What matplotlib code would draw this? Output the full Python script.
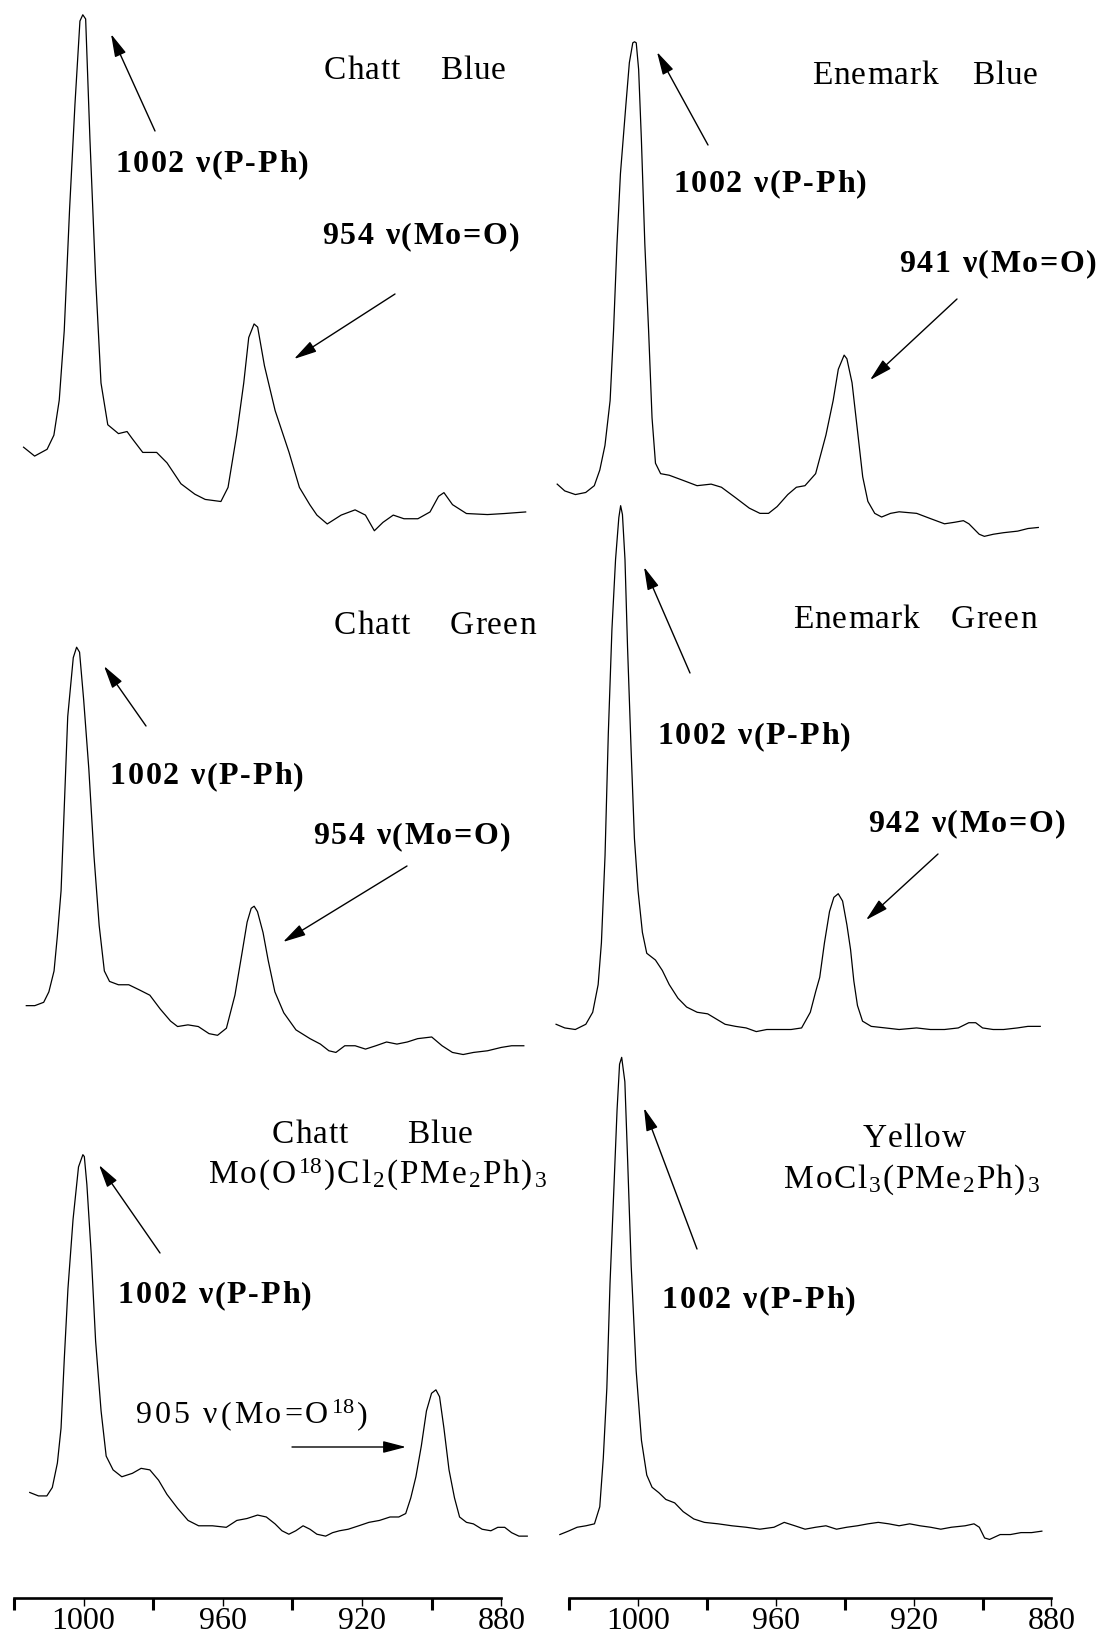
import re
import matplotlib
matplotlib.use("Agg")
import matplotlib.pyplot as plt
from matplotlib.patches import ArrowStyle
from matplotlib.ticker import FixedLocator, NullFormatter
from matplotlib.font_manager import FontProperties, findfont
from matplotlib.ft2font import FT2Font

W, H = 1102, 1638

plt.rcParams['font.family'] = ['Liberation Serif', 'DejaVu Serif']
plt.rcParams['mathtext.fontset'] = 'custom'
plt.rcParams['mathtext.rm'] = 'Liberation Serif'
plt.rcParams['mathtext.it'] = 'Liberation Serif:italic'
plt.rcParams['mathtext.bf'] = 'Liberation Serif:bold'
plt.rcParams['mathtext.default'] = 'regular'

# ---- spectra: wavenumber (cm-1) and relative absorbance (arbitrary units) ----
# Chatt blue
tl_wn = [1018.6, 1015.5, 1012.0, 1010.1, 1008.6, 1007.2, 1005.7, 1004.2, 1002.8, 1002.0,
         1001.2, 1000.0, 998.4, 996.9, 995.0, 992.0, 989.6, 988.1, 985.2, 981.3,
         978.4, 974.5, 970.6, 967.7, 963.3, 961.3, 958.9, 956.9, 955.5, 954.0,
         953.0, 951.1, 948.1, 944.2, 941.3, 938.4, 936.4, 933.5, 929.6, 925.7,
         922.8, 920.3, 917.9, 915.0, 912.0, 908.1, 904.7, 902.3, 900.8, 898.4,
         894.5, 888.6, 883.8, 877.9]
tl_abs = [17.7, 16.0, 17.3, 20.0, 26.7, 40.0, 63.3, 83.3, 99.3, 100.5,
          99.7, 76.7, 50.0, 30.0, 22.0, 20.3, 20.7, 19.3, 16.7, 16.7,
          14.7, 10.7, 8.7, 7.7, 7.3, 10.0, 20.0, 30.0, 38.7, 41.3,
          40.7, 33.3, 24.7, 16.7, 10.0, 6.7, 4.7, 3.0, 4.7, 5.7,
          4.7, 1.7, 3.3, 4.7, 4.0, 4.0, 5.3, 8.3, 9.0, 6.7,
          5.0, 4.8, 5.0, 5.3]

# Enemark blue
tr_wn = [1024.5, 1022.3, 1019.2, 1016.2, 1013.7, 1012.1, 1010.6, 1009.1, 1008.1, 1007.1,
         1006.1, 1004.5, 1003.5, 1002.5, 1002.0, 1001.5, 1000.8, 1000.0, 999.0, 997.9,
         996.9, 995.9, 994.4, 991.9, 987.8, 983.8, 979.7, 976.7, 972.6, 968.6,
         965.5, 963.0, 960.5, 957.4, 954.9, 952.4, 949.3, 946.3, 944.2, 942.7,
         941.0, 940.2, 938.7, 937.2, 935.6, 934.1, 932.1, 930.1, 927.5, 925.0,
         919.9, 915.9, 911.8, 908.8, 906.3, 904.7, 901.7, 900.2, 897.6, 894.6,
         890.5, 887.5, 884.5]
tr_abs = [11.3, 10.0, 9.3, 9.7, 11.0, 14.0, 18.7, 27.3, 40.7, 57.3,
          70.7, 84.0, 92.0, 95.8, 96.0, 95.8, 90.7, 77.3, 57.3, 40.7,
          24.0, 15.3, 13.3, 13.0, 12.0, 11.0, 11.3, 10.7, 8.7, 6.7,
          5.7, 5.7, 7.0, 9.3, 10.7, 11.0, 13.3, 20.7, 27.3, 33.3,
          36.0, 35.3, 30.7, 22.0, 12.7, 8.0, 5.7, 5.0, 5.7, 6.0,
          5.7, 4.7, 3.7, 4.0, 4.3, 3.7, 1.7, 1.3, 1.7, 2.0,
          2.3, 2.8, 3.0]

# Chatt green
ml_wn = [1015.6, 1013.3, 1010.9, 1009.5, 1008.1, 1007.2, 1006.2, 1005.3, 1004.4, 1002.9,
         1002.0, 1001.2, 1000.1, 998.7, 997.3, 995.9, 994.5, 993.1, 990.7, 987.9,
         985.1, 982.2, 979.4, 976.6, 974.7, 971.9, 969.1, 966.2, 963.9, 961.5,
         959.2, 957.3, 955.9, 954.8, 954.0, 953.1, 951.6, 950.2, 948.4, 946.0,
         942.7, 938.9, 936.1, 933.8, 931.9, 929.5, 926.7, 923.9, 921.1, 918.2,
         915.4, 912.6, 909.8, 906.0, 903.2, 900.4, 897.5, 894.7, 890.9, 887.2,
         884.4, 881.1]
ml_abs = [12.5, 12.5, 13.3, 15.8, 20.8, 29.2, 40.0, 60.8, 81.7, 95.8,
          98.3, 97.1, 85.8, 69.2, 48.3, 31.7, 20.8, 18.3, 17.5, 17.5,
          16.3, 15.0, 11.7, 8.8, 7.5, 7.9, 7.5, 5.8, 5.4, 7.1,
          15.0, 25.0, 32.5, 35.8, 36.3, 35.0, 30.0, 23.3, 15.8, 10.8,
          6.7, 4.6, 3.3, 1.7, 1.3, 2.9, 2.9, 2.1, 2.9, 3.8,
          3.3, 3.8, 4.6, 5.0, 2.9, 1.3, 0.8, 1.3, 1.7, 2.5,
          2.9, 2.9]

# Enemark green
mr_wn = [1019.8, 1017.4, 1014.5, 1011.6, 1009.7, 1008.2, 1007.3, 1006.3, 1005.4, 1004.4,
         1003.4, 1002.5, 1002.0, 1001.5, 1000.8, 1000.1, 999.1, 998.2, 997.2, 996.0,
         994.8, 992.4, 990.5, 988.6, 986.2, 983.8, 980.9, 978.0, 975.6, 973.2,
         970.3, 967.4, 964.6, 961.7, 958.8, 955.0, 952.1, 949.7, 948.2, 947.1,
         945.8, 944.4, 943.2, 942.0, 940.8, 939.6, 938.6, 937.7, 936.7, 935.3,
         932.9, 929.0, 925.2, 920.4, 916.6, 912.7, 908.9, 906.0, 904.1, 902.2,
         899.3, 896.4, 892.6, 889.7, 886.3]
mr_abs = [1.7, 1.0, 0.7, 1.7, 4.0, 9.3, 17.3, 34.0, 57.3, 77.3,
          90.7, 98.7, 101.0, 99.3, 90.7, 74.0, 54.0, 37.3, 27.3, 19.3,
          15.3, 14.0, 12.0, 9.3, 6.7, 5.0, 4.0, 3.7, 2.7, 1.7,
          1.3, 1.0, 0.3, 0.7, 0.7, 0.7, 1.0, 4.0, 8.0, 10.7,
          17.3, 23.3, 26.0, 26.7, 25.3, 20.7, 16.0, 10.0, 5.3, 2.3,
          1.3, 1.0, 0.7, 1.0, 0.7, 0.7, 1.0, 2.0, 2.0, 1.0,
          0.7, 0.7, 1.0, 1.3, 1.3]

# Chatt blue, O-18 labelled
bl_wn = [1016.6, 1014.2, 1011.9, 1010.4, 1009.0, 1008.0, 1007.1, 1006.1, 1004.7, 1003.2,
         1002.0, 1001.6, 1000.9, 999.7, 998.5, 997.0, 995.6, 993.7, 991.3, 988.4,
         986.0, 983.6, 981.2, 978.9, 976.0, 973.1, 970.2, 966.4, 962.6, 959.7,
         956.9, 954.0, 951.6, 949.2, 947.3, 945.4, 943.5, 941.5, 939.6, 937.7,
         935.3, 933.4, 931.5, 929.1, 926.2, 923.4, 920.5, 917.6, 915.2, 913.3,
         911.9, 910.5, 909.0, 907.6, 906.2, 905.0, 904.0, 902.8, 901.4, 899.9,
         898.5, 896.6, 894.7, 892.3, 889.9, 888.0, 886.1, 884.2, 882.2, 879.9]
bl_abs = [12.3, 11.4, 11.4, 13.6, 20.0, 29.1, 47.3, 65.5, 83.6, 97.3,
          100.5, 100.0, 92.7, 74.5, 51.8, 33.6, 21.8, 18.2, 16.4, 17.3,
          18.6, 18.2, 15.5, 11.8, 8.2, 5.0, 3.6, 3.6, 3.2, 5.0,
          5.5, 6.4, 5.9, 4.1, 2.3, 1.4, 2.3, 3.6, 2.7, 1.4,
          0.9, 1.8, 2.3, 2.7, 3.6, 4.5, 5.0, 5.9, 5.9, 6.8,
          10.9, 16.4, 24.5, 33.6, 38.2, 39.1, 37.3, 29.1, 18.2, 10.9,
          5.9, 4.5, 4.1, 2.7, 2.3, 3.2, 3.2, 1.8, 0.9, 0.9]

# Yellow MoCl3(PMe2Ph)3
br_wn = [1019.5, 1017.1, 1014.6, 1012.1, 1009.7, 1008.2, 1007.2, 1006.2, 1005.3, 1004.3,
         1003.3, 1002.6, 1002.0, 1001.1, 1000.3, 999.3, 997.9, 996.4, 994.9, 993.4,
         991.5, 989.5, 987.0, 984.6, 981.6, 978.6, 974.7, 970.8, 966.8, 962.9,
         958.9, 956.0, 953.0, 950.1, 947.1, 944.2, 941.2, 938.3, 935.3, 932.3,
         929.4, 926.4, 923.5, 920.5, 917.6, 914.6, 911.7, 908.7, 904.8, 902.3,
         900.8, 899.3, 897.9, 894.9, 892.0, 889.0, 886.0, 883.1]
br_abs = [1.4, 2.1, 2.9, 3.2, 3.6, 7.1, 17.1, 31.4, 52.9, 70.7,
          88.6, 97.9, 99.3, 94.3, 77.9, 56.4, 35.0, 20.7, 13.6, 11.1,
          10.0, 8.6, 7.9, 6.1, 4.6, 3.9, 3.6, 3.2, 2.9, 2.5,
          2.9, 3.9, 3.2, 2.5, 2.9, 3.2, 2.5, 2.9, 3.2, 3.6,
          3.9, 3.6, 3.2, 3.6, 3.2, 2.9, 2.5, 2.9, 3.2, 3.6,
          2.9, 0.7, 0.4, 1.4, 1.4, 1.8, 1.8, 2.1]

# wavenumber scale under each column
scale_major = [1000, 960, 920, 880]
scale_minor = [1020, 980, 940, 900]
scale_labels = ["1000", "960", "920", "880"]

fig = plt.figure(figsize=(W / 100, H / 100), dpi=100)


def box_axes(x0, y0, x1, y1):
    """Axes placed by a pixel box (left, top, right, bottom)."""
    return fig.add_axes([x0 / W, 1 - y1 / H, (x1 - x0) / W, (y1 - y0) / H])


# (data, pixel box, xlim, ylim) for each trace
panels = [
    (tl_wn, tl_abs, (0, 0, 551, 540), (1025.2, 870.8), (-0.07, 103.33)),
    (tr_wn, tr_abs, (551, 0, 1102, 560), (1026.3, 865.97), (-3.23, 104.0)),
    (ml_wn, ml_abs, (0, 560, 551, 1060), (1022.71, 873.75), (-0.51, 119.17)),
    (mr_wn, mr_abs, (551, 490, 1102, 1040), (1021.2, 869.27), (-1.31, 104.0)),
    (bl_wn, bl_abs, (0, 1080, 551, 1540), (1024.77, 873.38), (-0.11, 120.0)),
    (br_wn, br_abs, (551, 1040, 1102, 1560), (1022.0, 866.08), (-3.82, 102.86)),
]

for wn, ab, box, xl, yl in panels:
    ax = box_axes(*box)
    ax.plot(wn, ab, color="black", lw=0.9, solid_joinstyle="round")
    ax.set_xlim(*xl)
    ax.set_ylim(*yl)
    ax.axis("off")
    ax.patch.set_alpha(0)

# wavenumber rulers
for x0, x1 in [(13.9, 501.4), (569.1, 1051.4)]:
    sx = box_axes(x0, 1560, x1, 1598)
    sx.set_xlim(1020, 880)
    sx.set_ylim(0, 1)
    sx.patch.set_alpha(0)
    for s in ("top", "left", "right"):
        sx.spines[s].set_visible(False)
    sx.spines["bottom"].set_linewidth(1.9)
    sx.set_yticks([])
    sx.xaxis.set_major_locator(FixedLocator(scale_major))
    sx.xaxis.set_minor_locator(FixedLocator(scale_minor))
    sx.xaxis.set_minor_formatter(NullFormatter())
    sx.set_xticklabels(scale_labels)
    sx.tick_params(axis="x", which="major", direction="out", length=6.0, width=1.0,
                   pad=0.5, labelsize=23)
    sx.tick_params(axis="x", which="minor", direction="out", length=8.5, width=2.2)

# overlay in pixel coordinates for captions and arrows
ov = fig.add_axes([0, 0, 1, 1])
ov.set_xlim(0, W)
ov.set_ylim(H, 0)
ov.axis("off")
ov.patch.set_alpha(0)

renderer = fig.canvas.get_renderer()
_fonts = {}


def _face(weight, size):
    key = (weight, size)
    if key not in _fonts:
        fp = FontProperties(family="Liberation Serif", weight=weight)
        ft = FT2Font(findfont(fp))
        ft.set_size(size, 100)
        _fonts[key] = ft
    return _fonts[key]


def _tokens(s):
    out = []
    for part in re.split(r"(\$[^$]*\$)", s):
        if part.startswith("$"):
            out.append(part)
        else:
            out.extend(list(part))
    return out


def spaced(x, y, s, size=23, bold=False, track=1.7, ha="left"):
    """Letter-spaced text with its baseline at y (pixel coordinates)."""
    weight = "bold" if bold else "normal"
    ft = _face(weight, size)
    toks = _tokens(s)
    widths = []
    for t in toks:
        if t.startswith("$"):
            tmp = ov.text(0, 0, t, fontsize=size, fontweight=weight)
            widths.append(tmp.get_window_extent(renderer).width)
            tmp.remove()
        else:
            widths.append(ft.load_char(ord(t)).linearHoriAdvance / 65536)
    total = sum(widths) + track * (len(toks) - 1)
    if ha == "center":
        x -= total / 2
    for t, w in zip(toks, widths):
        if t != " ":
            ov.text(x, y, t, ha="left", va="baseline", fontsize=size,
                    fontweight=weight, color="black")
        x += w + track


head = ArrowStyle("-|>", head_length=1.0, head_width=0.26)


def arrow(tail, tip):
    ov.annotate("", xy=tip, xytext=tail,
                arrowprops=dict(arrowstyle=head, mutation_scale=14, lw=1.0,
                                color="black", shrinkA=0, shrinkB=0))


# Chatt blue
spaced(324, 79, "Chatt", size=24, track=1.0)
spaced(440, 79, "Blue", size=24, track=1.0)
spaced(115, 172.5, "1002 ν(P-Ph)", bold=True)
arrow((155, 131), (111, 34))
spaced(322, 244, "954 ν(Mo=O)", bold=True)
arrow((395, 294), (294, 359))

# Enemark blue
spaced(812, 84, "Enemark", size=24, track=1.0)
spaced(972, 84, "Blue", size=24, track=1.0)
spaced(673, 191.5, "1002 ν(P-Ph)", bold=True)
arrow((708, 145), (657, 52))
spaced(899, 271.5, "941 ν(Mo=O)", bold=True)
arrow((957, 299), (870, 380))

# Chatt green
spaced(334, 634, "Chatt", size=24, track=1.0)
spaced(450, 634, "Green", size=24, track=1.0)
spaced(110, 784.5, "1002 ν(P-Ph)", bold=True)
arrow((146, 726), (104, 666))
spaced(313, 844, "954 ν(Mo=O)", bold=True)
arrow((407, 866), (283, 942))

# Enemark green
spaced(793, 628, "Enemark", size=24, track=1.0)
spaced(951, 628, "Green", size=24, track=1.0)
spaced(657, 744.5, "1002 ν(P-Ph)", bold=True)
arrow((690, 673), (644, 567))
spaced(868, 831.5, "942 ν(Mo=O)", bold=True)
arrow((938, 854), (866, 920))

# Chatt blue, O-18
spaced(272, 1143, "Chatt", size=24, track=1.0)
spaced(407, 1143, "Blue", size=24, track=1.0)
spaced(378, 1183, "Mo(O$^{18}$)Cl$_2$(PMe$_2$Ph)$_3$", size=24, track=1.8, ha="center")
spaced(118, 1303, "1002 ν(P-Ph)", bold=True)
arrow((160, 1253), (99, 1165))
spaced(136, 1423, "905 ν(Mo=O$^{18}$)", size=23, track=2.8)
arrow((292, 1447), (406, 1447))

# Yellow
spaced(914, 1147, "Yellow", size=24, track=1.0, ha="center")
spaced(912, 1188, "MoCl$_3$(PMe$_2$Ph)$_3$", size=24, track=1.4, ha="center")
spaced(662, 1308.5, "1002 ν(P-Ph)", bold=True)
arrow((697, 1249), (644, 1108))

fig.savefig("out.png", dpi=100, facecolor="white")
